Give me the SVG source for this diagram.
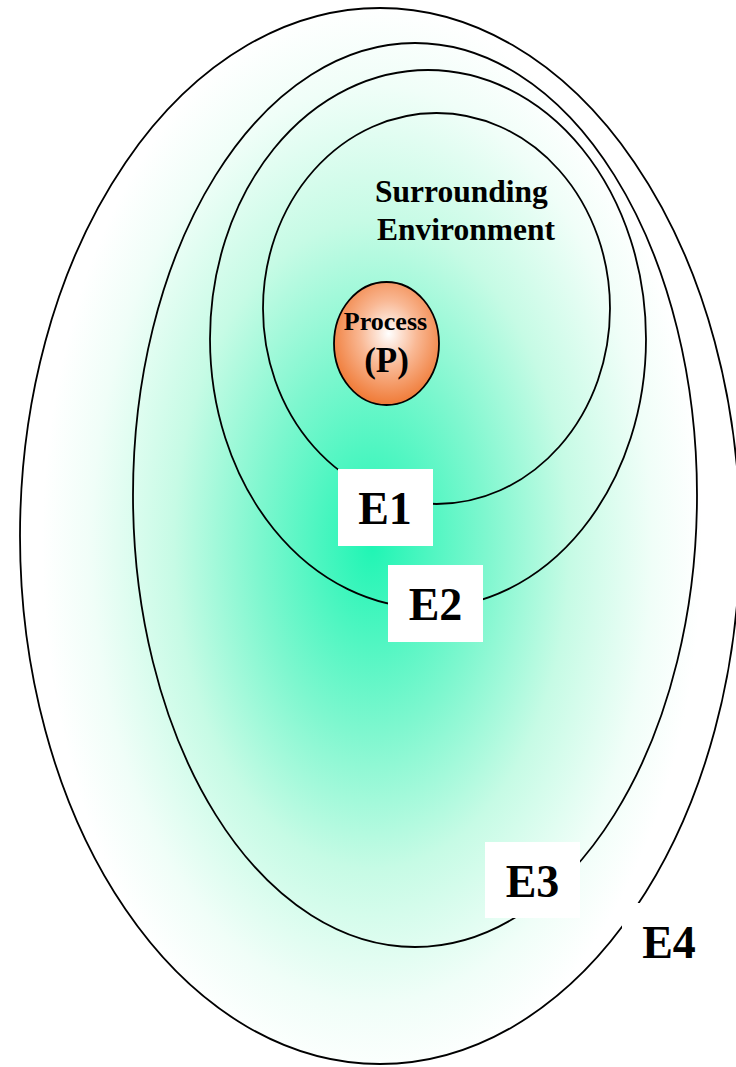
<svg xmlns="http://www.w3.org/2000/svg" width="736" height="1067" viewBox="0 0 736 1067">
  <defs>
    <radialGradient id="envGrad" gradientUnits="userSpaceOnUse" cx="372" cy="545" r="1" fx="372" fy="545" gradientTransform="translate(372 545) scale(330 540) translate(-372 -545)">
      <stop offset="0" stop-color="#1ff5b4"/>
      <stop offset="0.35" stop-color="#7ff7cf"/>
      <stop offset="0.6" stop-color="#c6fbe5"/>
      <stop offset="0.85" stop-color="#f0fef8"/>
      <stop offset="1" stop-color="#ffffff"/>
    </radialGradient>
    <radialGradient id="procGrad" cx="0.52" cy="0.42" r="0.6">
      <stop offset="0" stop-color="#ffffff"/>
      <stop offset="0.45" stop-color="#f9b894"/>
      <stop offset="1" stop-color="#ef7630"/>
    </radialGradient>
    <style>
      .ring { fill: none; stroke: #000; stroke-width: 1.8; }
      .box { fill: #ffffff; stroke: none; }
      .lbl { font-family: "Liberation Serif", "Times New Roman", serif; font-weight: bold; fill: #000; }
      .big { font-size: 46px; text-anchor: middle; }
    </style>
  </defs>
  <rect width="736" height="1067" fill="#ffffff"/>

  <g id="E4">
    <ellipse cx="380" cy="536" rx="360" ry="528" fill="url(#envGrad)" stroke="#000" stroke-width="1.8"/>
  </g>
  <g id="E3">
    <ellipse class="ring" cx="415" cy="495" rx="282" ry="452"/>
  </g>
  <g id="E2">
    <ellipse class="ring" cx="428" cy="339" rx="218" ry="269"/>
  </g>
  <g id="E1">
    <ellipse class="ring" cx="436.5" cy="308.5" rx="173.5" ry="195.5"/>
    <text class="lbl" x="375" y="202" font-size="31.5">Surrounding</text>
    <text class="lbl" x="377" y="240" font-size="31.5">Environment</text>
  </g>
  <g id="process">
    <ellipse cx="386.5" cy="343.5" rx="52.5" ry="61.5" fill="url(#procGrad)" stroke="#000" stroke-width="1.8"/>
    <text class="lbl" x="385.5" y="330" font-size="26" text-anchor="middle">Process</text>
    <text class="lbl" x="386.5" y="372" font-size="35" text-anchor="middle">(P)</text>
  </g>

  <g id="label-E1">
    <rect class="box" x="338" y="469" width="95" height="77"/>
    <text class="lbl big" x="385" y="524">E1</text>
  </g>
  <g id="label-E2">
    <rect class="box" x="388" y="565" width="95" height="77"/>
    <text class="lbl big" x="435.5" y="620">E2</text>
  </g>
  <g id="label-E3">
    <rect class="box" x="485" y="842" width="95" height="76"/>
    <text class="lbl big" x="532.5" y="897">E3</text>
  </g>
  <g id="label-E4">
    <rect class="box" x="622" y="903" width="95" height="76"/>
    <text class="lbl big" x="669" y="958">E4</text>
  </g>
  <g id="connectors"/>
</svg>
